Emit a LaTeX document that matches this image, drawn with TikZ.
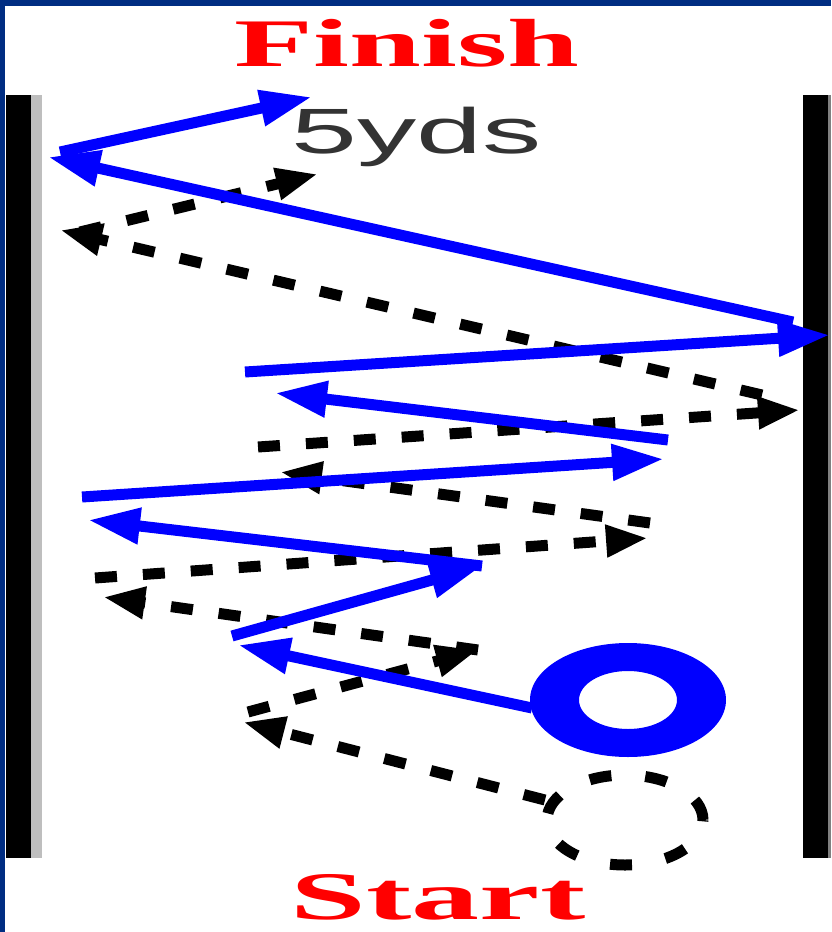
\documentclass[tikz,border=0pt]{standalone}
\usepackage{fontspec}
\setmainfont{Liberation Serif}
\setsansfont{Liberation Sans}
\usetikzlibrary{arrows.meta}

\definecolor{framenavy}{RGB}{0,45,130}
\definecolor{runblue}{RGB}{0,0,255}
\definecolor{stripgray}{RGB}{190,190,190}

\begin{document}
\begin{tikzpicture}[
	x=1pt, y=-1pt,
	>={Triangle[length=52pt, width=34pt]},
	bluerun/.style={->, draw=runblue, line width=11pt},
	blackjog/.style={-{Triangle[length=42pt, width=30pt]}, draw=black, line width=11pt, dash pattern=on 22pt off 26pt},
	jogloop/.style={draw=black, line width=11pt, dash pattern=on 22pt off 34pt},
	endtext/.style={font=\bfseries\fontsize{68}{68}\selectfont, text=red, anchor=base}
	]
	
	\useasboundingbox (0,0) rectangle (831,932);
	\fill[white] (0,0) rectangle (831,932);
	
	% Marco
	\fill[framenavy] (0,0) rectangle (831,6);
	\fill[framenavy] (0,0) rectangle (5,932);
	
	% Bandas
	\fill[black] (6,95) rectangle (31,858);
	\fill[stripgray] (31,95) rectangle (42,858);
	\fill[black] (803,95) rectangle (828,858);
	\fill[gray] (828,95) rectangle (831,858);
	
	% Textos
	\node[endtext] (finish) at (407,66) {\scalebox{1.9}[1]{Finish}};
	\node[endtext] (start) at (438,919) {\scalebox{2.0}[1]{Start}};
	\node[font=\sffamily\fontsize{64}{64}\selectfont, text=black!80, anchor=base] (yds) at (417,153) {\scalebox{1.85}[1]{5yds}};
	
	% Puntos del recorrido negro
	\coordinate (jogring) at (625,820);
	\coordinate (k0) at (545,800);
	\coordinate (k1) at (243,722);
	\coordinate (k2s) at (248,712);
	\coordinate (k2) at (478,650);
	\coordinate (k3) at (103,597);
	\coordinate (k4s) at (95,578);
	\coordinate (k4) at (648,538);
	\coordinate (k5s) at (650,523);
	\coordinate (k5) at (280,472);
	\coordinate (k6s) at (258,447);
	\coordinate (k6) at (800,410);
	\coordinate (k7s) at (762,395);
	\coordinate (k7) at (60,230);
	\coordinate (k8s) at (80,232);
	\coordinate (k8) at (318,174);
	
	% Recorrido negro
	\draw[jogloop] (jogring) ellipse [x radius=78pt, y radius=45pt];
	\draw[blackjog] (k0) -- (k1);
	\draw[blackjog] (k2s) -- (k2);
	\draw[blackjog] (k2) -- (k3);
	\draw[blackjog] (k4s) -- (k4);
	\draw[blackjog] (k5s) -- (k5);
	\draw[blackjog] (k6s) -- (k6);
	\draw[blackjog] (k7s) -- (k7);
	\draw[blackjog] (k8s) -- (k8);
	
	% Puntos del recorrido azul
	\coordinate (ring) at (628,700);
	\coordinate (b0) at (532,708);
	\coordinate (b1) at (238,645);
	\coordinate (b2s) at (232,636);
	\coordinate (b2) at (482,566);
	\coordinate (b3) at (88,520);
	\coordinate (b4s) at (82,497);
	\coordinate (b4) at (664,459);
	\coordinate (b5s) at (668,440);
	\coordinate (b5) at (275,393);
	\coordinate (b6s) at (245,372);
	\coordinate (b6) at (830,335);
	\coordinate (b7s) at (793,322);
	\coordinate (b7) at (48,157);
	\coordinate (b8s) at (60,152);
	\coordinate (b8) at (312,97);
	
	% Recorrido azul
	\fill[runblue, even odd rule] (ring) ellipse [x radius=98pt, y radius=57pt]
		(ring) ellipse [x radius=49pt, y radius=29pt];
	\draw[bluerun] (b0) -- (b1);
	\draw[bluerun] (b2s) -- (b2);
	\draw[bluerun] (b2) -- (b3);
	\draw[bluerun] (b4s) -- (b4);
	\draw[bluerun] (b5s) -- (b5);
	\draw[bluerun] (b6s) -- (b6);
	\draw[bluerun] (b7s) -- (b7);
	\draw[bluerun] (b8s) -- (b8);
	
\end{tikzpicture}
\end{document}
